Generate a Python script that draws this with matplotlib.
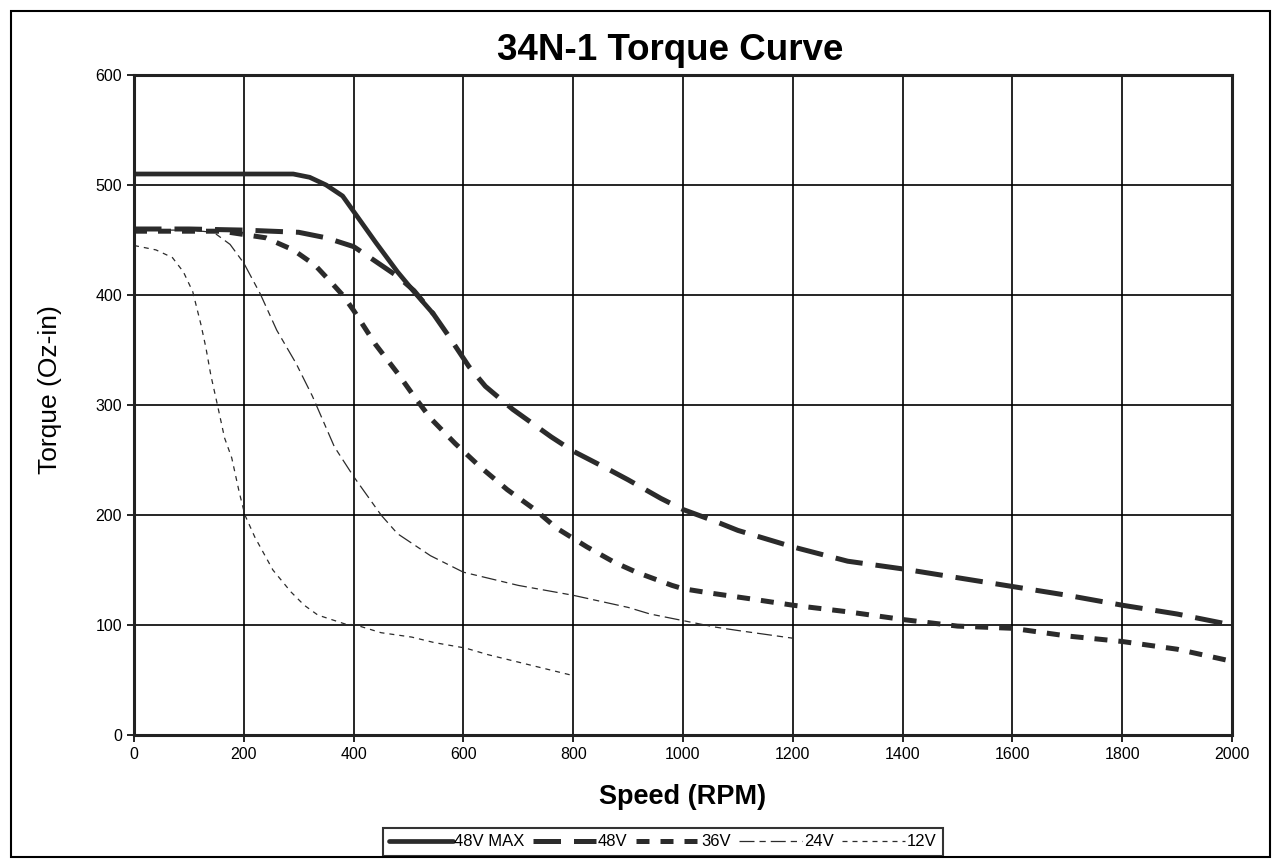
#!/usr/bin/env python3
#- 34N-1 torque curve: torque vs speed for several supply voltages

import matplotlib
matplotlib.use('Agg')
import matplotlib.pyplot as plt

plt.rcParams['font.family'] = ['Liberation Sans', 'DejaVu Sans']

#- values (speed in RPM, torque in Oz-in)

rpm_48max = [0, 100, 200, 290, 320, 350, 380, 400, 440, 480, 510, 545]
tq_48max = [510, 510, 510, 510, 507, 500, 490, 476, 448, 421, 403, 383]

rpm_48 = [0, 100, 200, 300, 350, 400, 430, 480, 510, 545, 570, 610, 640,
          690, 760, 800, 870, 900, 960, 1000, 1060, 1100, 1200, 1300, 1400,
          1500, 1600, 1700, 1800, 1900, 2000]
tq_48 = [460, 460, 459, 457, 452, 444, 434, 417, 404, 383, 365, 335, 317,
         296, 271, 258, 240, 232, 215, 205, 194, 186, 171, 158, 151,
         143, 135, 127, 118, 110, 100]

rpm_36 = [0, 100, 160, 240, 290, 330, 360, 380, 400, 440, 480, 510, 540,
          585, 630, 680, 730, 770, 825, 875, 915, 980, 1000, 1050, 1120,
          1200, 1300, 1400, 1500, 1600, 1700, 1800, 1900, 2000]
tq_36 = [458, 458, 458, 452, 441, 427, 411, 400, 386, 355, 329, 308, 288,
         265, 244, 223, 205, 188, 171, 157, 148, 136, 133, 129, 124,
         118, 112, 105, 99, 97, 90, 85, 78, 67]

rpm_24 = [0, 100, 145, 175, 200, 230, 260, 295, 325, 365, 400, 450, 480,
          540, 600, 700, 800, 900, 940, 1000, 1030, 1060, 1100, 1200]
tq_24 = [459, 459, 457, 446, 429, 401, 368, 338, 308, 262, 235, 200, 183,
         163, 148, 136, 127, 116, 110, 104, 101, 98, 95, 88]

rpm_12 = [0, 40, 70, 90, 107, 122, 131, 140, 152, 165, 178, 192, 202, 220,
          253, 286, 310, 335, 384, 404, 450, 506, 547, 604, 645, 694, 751, 800]
tq_12 = [445, 441, 434, 421, 403, 373, 352, 327, 300, 270, 252, 220, 200, 180,
         150, 130, 118, 109, 101, 100, 93, 89, 84, 79, 73, 67, 60, 54]

x_ticks = list(range(0, 2001, 200))
y_ticks = list(range(0, 601, 100))

#- figure and axes placed like the reference

W, H = 1280, 867
fig = plt.figure(figsize=(W/100, H/100), dpi=100)
ax = fig.add_axes([134/W, 1 - 735/H, (1232 - 134)/W, (735 - 75)/H])

col = '#2b2b2b'
ax.plot(rpm_48max, tq_48max, color=col, lw=3.4, solid_capstyle='round',
        label='48V MAX')
ax.plot(rpm_48, tq_48, color=col, lw=3.6, dashes=(5.5, 2.6), label='48V')
ax.plot(rpm_36, tq_36, color=col, lw=3.6, dashes=(2.6, 2.2), label='36V')
ax.plot(rpm_24, tq_24, color=col, lw=0.9, dashes=(12, 4, 5, 4), label='24V')
ax.plot(rpm_12, tq_12, color=col, lw=0.9, dashes=(4, 4), label='12V')

ax.set_xlim(0, 2000)
ax.set_ylim(0, 600)
ax.set_xticks(x_ticks)
ax.set_yticks(y_ticks)
ax.grid(True, color='black', lw=1.2)
ax.set_axisbelow(True)
ax.tick_params(direction='out', length=5, width=1.2, labelsize=11.5,
               color='black')
for s in ax.spines.values():
    s.set_linewidth(2.2)
    s.set_color('#222222')

#- title and axis labels put where the reference has them

fig.text(670/W, 1 - 50/H, '34N-1 Torque Curve', fontsize=26.5,
         fontweight='bold', ha='center', va='center')
fig.text(683/W, 1 - 797/H, 'Speed (RPM)', fontsize=19.5,
         fontweight='bold', ha='center', va='center')
fig.text(50/W, 1 - 390/H, 'Torque (Oz-in)', fontsize=19, rotation=90,
         ha='center', va='center')

leg = fig.legend(loc='center', bbox_to_anchor=(663/W, 1 - 842/H), ncol=5,
                 fontsize=12, frameon=True, fancybox=False, handlelength=3.8,
                 handletextpad=0.1, columnspacing=0.5, borderpad=0.4,
                 borderaxespad=0)
leg.get_frame().set_edgecolor('black')
leg.get_frame().set_linewidth(1.5)

#- outer frame round the whole picture

fig.add_artist(plt.Rectangle((11/W, 10/H), 1259/W, 846/H,
                             transform=fig.transFigure, fill=False,
                             lw=1.5, color='black'))

fig.savefig('out.png', dpi=100)
